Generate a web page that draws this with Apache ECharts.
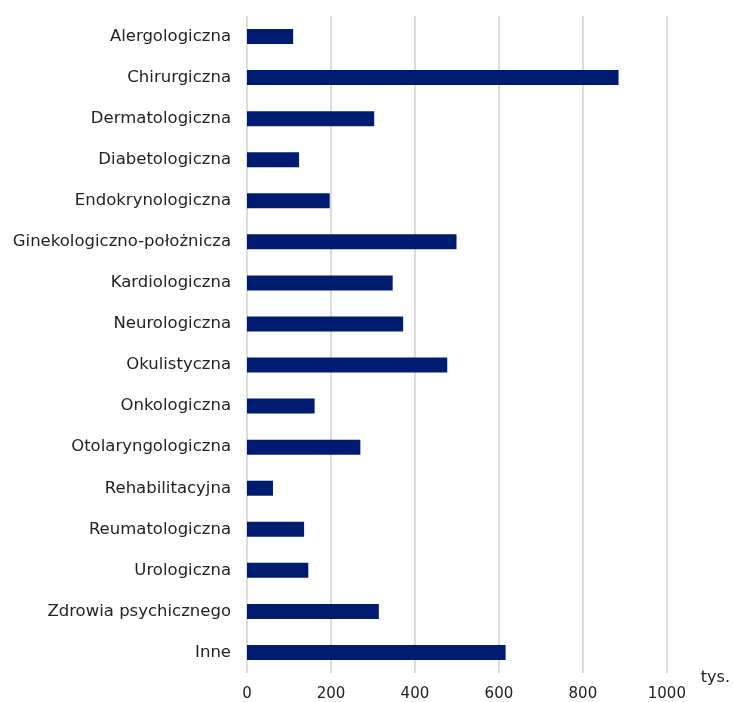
<!DOCTYPE html>
<html>
<head>
<meta charset="utf-8">
<script src="https://cdn.jsdelivr.net/npm/echarts@6/dist/echarts.min.js"></script>
<style>
  html, body { margin: 0; padding: 0; background: #fff; }
  #chart { width: 733px; height: 702px; }
</style>
</head>
<body>
<div id="chart"></div>
<script>
// Poradnie specjalistyczne - liczba porad (tys.)
const categories = [
  'Alergologiczna', 'Chirurgiczna', 'Dermatologiczna', 'Diabetologiczna',
  'Endokrynologiczna', 'Ginekologiczno-położnicza', 'Kardiologiczna', 'Neurologiczna',
  'Okulistyczna', 'Onkologiczna', 'Otolaryngologiczna', 'Rehabilitacyjna',
  'Reumatologiczna', 'Urologiczna', 'Zdrowia psychicznego', 'Inne'
];
const values = [110, 885, 303, 124, 197, 499, 347, 372, 477, 161, 270, 62, 136, 146, 314, 616];
const xTicks = [0, 200, 400, 600, 800, 1000];

const chart = echarts.init(document.getElementById('chart'));
const fontFamily = '"DejaVu Sans", sans-serif';

chart.setOption({
  animation: false,
  grid: { left: 247, right: 66, top: 16, bottom: 29 },
  xAxis: {
    type: 'value',
    min: xTicks[0],
    max: xTicks[xTicks.length - 1],
    interval: xTicks[1] - xTicks[0],
    name: 'tys.',
    nameLocation: 'end',
    nameGap: 34,
    nameTextStyle: { color: '#222', fontSize: 16, fontFamily, verticalAlign: 'top', padding: [-3, 0, 0, 0] },
    axisLine: { show: false },
    axisTick: { show: false },
    axisLabel: { color: '#222', fontSize: 15, fontFamily, margin: 14, formatter: v => String(v) },
    splitLine: { show: true, lineStyle: { color: '#dcdcdc', width: 2 } }
  },
  yAxis: {
    type: 'category',
    data: categories,
    inverse: true,
    axisLine: { show: false },
    axisTick: { show: false },
    axisLabel: { color: '#222', fontSize: 16.5, fontFamily, margin: 16 }
  },
  series: [{
    type: 'bar',
    data: values,
    barWidth: 15,
    itemStyle: { color: '#001c71' }
  }]
});
</script>
</body>
</html>
